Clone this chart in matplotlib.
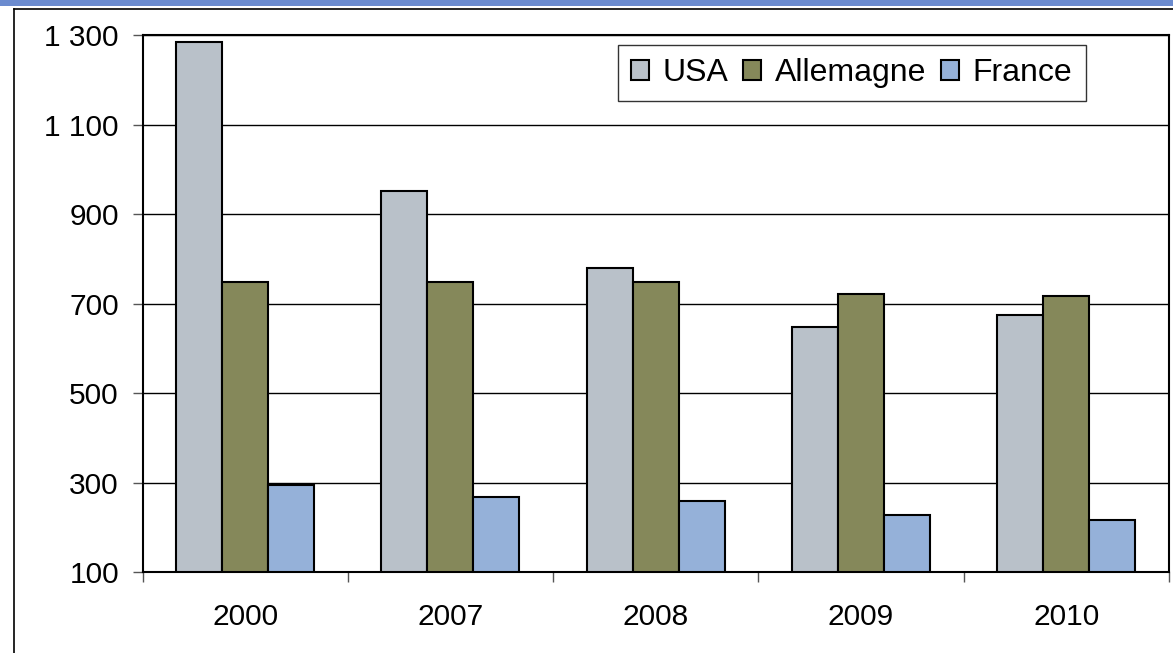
import matplotlib
matplotlib.use("Agg")
import matplotlib.pyplot as plt
import numpy as np
from matplotlib.ticker import FuncFormatter, FixedLocator
from matplotlib.patches import Rectangle
from matplotlib.lines import Line2D

plt.rcParams['font.family'] = ['Liberation Sans', 'DejaVu Sans']

years = ["2000", "2007", "2008", "2009", "2010"]
usa = [1285, 952, 779, 648, 674]
allemagne = [748, 748, 748, 721, 716]
france = [295, 268, 259, 227, 216]
series_names = ["USA", "Allemagne", "France"]
colors = ["#B9C1C9", "#85885A", "#95B1D9"]
yticks = [100, 300, 500, 700, 900, 1100, 1300]

W, H = 1173, 653
fig = plt.figure(figsize=(W / 100, H / 100), dpi=100)

# blue band and outer frame
fig.patches.append(Rectangle((0, 1 - 6 / H), 1, 6 / H, transform=fig.transFigure,
                             facecolor="#6B8BCF", edgecolor="none"))
fig.lines.append(Line2D([14 / W, 1], [1 - 9 / H, 1 - 9 / H], transform=fig.transFigure,
                        color="black", lw=1.2))
fig.lines.append(Line2D([14 / W, 14 / W], [0, 1 - 9 / H], transform=fig.transFigure,
                        color="black", lw=1.2))

ax = fig.add_axes([142.5 / W, 1 - 572 / H, (1169 - 142.5) / W, (572 - 35) / H])

x = np.arange(len(years))
bw = 0.224
for i, (vals, name, c) in enumerate(zip([usa, allemagne, france], series_names, colors)):
    ax.bar(x + (i - 1) * bw, np.array(vals) - 100, bottom=100, width=bw, color=c,
           edgecolor="black", linewidth=1.5, label=name, zorder=3)

ax.set_xlim(-0.5, len(years) - 0.5)
ax.set_ylim(100, 1300)
ax.set_yticks(yticks)
ax.yaxis.set_major_formatter(FuncFormatter(lambda v, p: f"{int(v):,}".replace(",", " ")))
ax.grid(axis="y", color="black", linewidth=1.0, zorder=0)
ax.set_axisbelow(True)

ax.set_xticks(x)
ax.set_xticklabels(years)
ax.xaxis.set_minor_locator(FixedLocator(np.arange(-0.5, len(years), 1.0)))
ax.tick_params(axis="x", which="major", length=0, pad=22, labelsize=21.5)
ax.tick_params(axis="x", which="minor", length=7, width=1, color="#555555", direction="out")
ax.tick_params(axis="y", length=7, width=1, color="#555555", direction="out", pad=10, labelsize=21.5)

for s in ax.spines.values():
    s.set_color("black")
    s.set_linewidth(1.5)

leg = ax.legend(ncol=3, loc="upper right", bbox_to_anchor=(0.919, 0.982), borderaxespad=0,
                fontsize=23, frameon=True, fancybox=False, edgecolor="black",
                handlelength=0.56, handleheight=0.56, handletextpad=0.44, columnspacing=0.45,
                borderpad=0.42)
leg.get_frame().set_linewidth(1.0)
for h in leg.legend_handles:
    h.set_linewidth(1.5)

fig.savefig("out.png", dpi=100)
